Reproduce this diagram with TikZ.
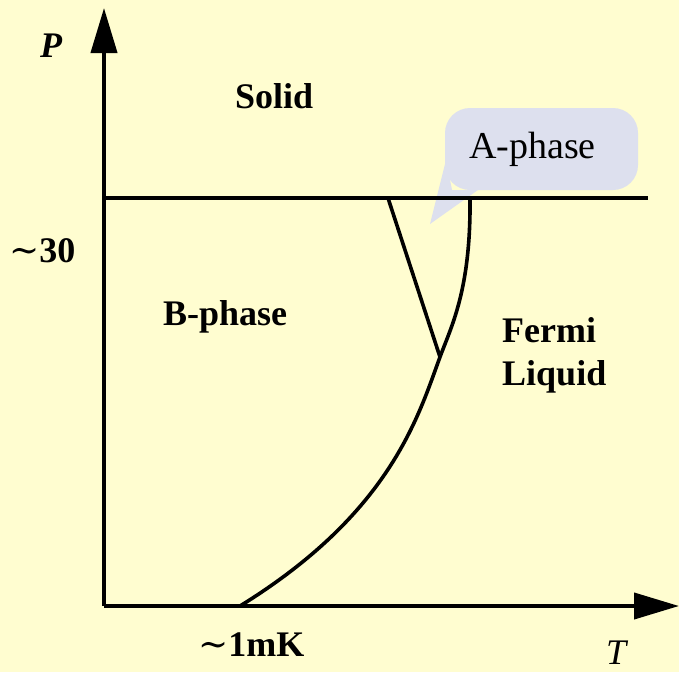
\documentclass[tikz,border=0pt]{standalone}
\usepackage{fontspec}
\setmainfont{Liberation Serif}
\newfontfamily\tildefont{DejaVu Serif}
\usetikzlibrary{arrows.meta}
\definecolor{bgyellow}{RGB}{255,253,208}
\definecolor{calloutblue}{RGB}{221,224,238}
\newcommand{\bigtilde}{{\tildefont\fontsize{36}{40}\selectfont\mdseries ∼}}
\begin{document}
\begin{tikzpicture}[x=1pt,y=-1pt,
  lbl/.style={font=\fontsize{36}{40}\selectfont\bfseries, anchor=base west, inner sep=0pt},
  axisline/.style={line width=4pt},
  phaseline/.style={line width=3.6pt},
  tip/.style={-{Triangle[length=45pt,width=26pt]}}]
\fill[bgyellow] (0,0) rectangle (679,672);
\useasboundingbox (0,0) rectangle (679,672);
% callout
\fill[calloutblue, rounded corners=25pt] (445,108) rectangle (638,190);
\fill[calloutblue] (430,224) -- (446,160) -- (452,190) -- (478,190) -- cycle;
% coordinates
\coordinate (O) at (104,606);
\coordinate (Ptip) at (104,8);
\coordinate (Ttip) at (679,606);
\coordinate (L0) at (104,198);
\coordinate (L1) at (648,198);
\coordinate (Atop) at (388,198);
\coordinate (Tri) at (440,357);
\coordinate (Ctop) at (470,198);
\coordinate (Cbot) at (240,606);
% lines
\draw[phaseline] (L0) -- (L1);
\draw[phaseline] (Atop) -- (Tri);
\draw[phaseline] (Ctop) .. controls (471,290) and (451,327) .. (Tri)
  .. controls (418,417) and (390.4,513.2) .. (Cbot);
\draw[axisline,tip] (O) -- (Ptip);
\draw[axisline,tip] (O) -- (Ttip);
% labels
\node[lbl] (solid) at (235,108) {Solid};
\node[lbl] (bphase) at (163,325) {B-phase};
\node[lbl] (fermi) at (502,342) {Fermi};
\node[lbl] (liquid) at (502,385) {Liquid};
\node[lbl, font=\fontsize{38}{40}\selectfont] (aphase) at (469,158) {A-phase};
\node[lbl] (p30) at (9,262) {\bigtilde 30};
\node[lbl] (mk) at (198,656) {\bigtilde 1mK};
\node[lbl, font=\fontsize{36}{40}\selectfont\bfseries\itshape] (P) at (40,57) {P};
\node[lbl, font=\fontsize{36}{40}\selectfont\itshape] (T) at (606,664) {T};
\end{tikzpicture}
\end{document}
